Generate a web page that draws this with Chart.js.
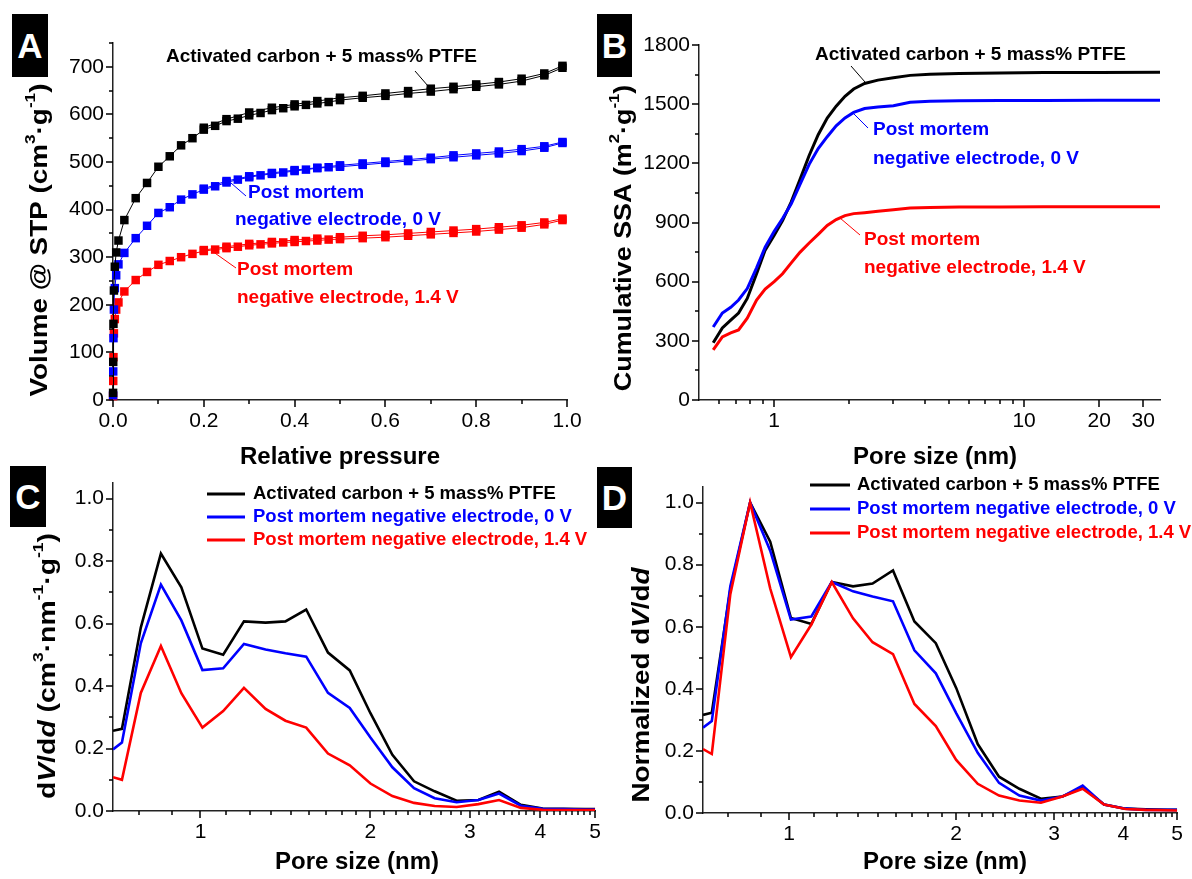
<!DOCTYPE html>
<html>
<head>
<meta charset="utf-8">
<script src="https://cdn.jsdelivr.net/npm/chart.js@4.4.1/dist/chart.umd.min.js"></script>
<style>
    body { margin: 0; background: #fff; width: 1192px; height: 879px; position: relative; overflow: hidden; }
    canvas { position: absolute; }
    .tag {
        position: absolute; background: #000; color: #fff; text-align: center;
        font: bold 35px 'Liberation Sans', Arial, sans-serif;
    }
</style>
</head>
<body>
<canvas id="cvA" width="596" height="480" style="left:0;top:0"></canvas>
<canvas id="cvB" width="596" height="480" style="left:596px;top:0"></canvas>
<canvas id="cvC" width="610" height="439" style="left:0;top:440px"></canvas>
<canvas id="cvD" width="602" height="439" style="left:590px;top:440px"></canvas>
<div class="tag" style="left:12px;top:14px;width:36px;height:63px;line-height:63px">A</div>
<div class="tag" style="left:597px;top:14px;width:35px;height:63px;line-height:63px">B</div>
<div class="tag" style="left:10px;top:466px;width:36px;height:61px;line-height:61px">C</div>
<div class="tag" style="left:597px;top:467px;width:35px;height:61px;line-height:61px">D</div>
<script>
// ---- A: N2 isotherms (relative pressure vs volume, cm3/g)
const P_ADS = [0.0002, 0.0005, 0.001, 0.002, 0.004, 0.007, 0.012, 0.025, 0.05, 0.075, 0.1,
    0.125, 0.15, 0.175, 0.2, 0.225, 0.25, 0.275, 0.3, 0.325, 0.35, 0.375, 0.4, 0.425, 0.45,
    0.475, 0.5, 0.55, 0.6, 0.65, 0.7, 0.75, 0.8, 0.85, 0.9, 0.95, 0.99];
const P_DES = [0.99, 0.95, 0.9, 0.85, 0.8, 0.75, 0.7, 0.65, 0.6, 0.55, 0.5, 0.45, 0.4, 0.35, 0.3, 0.25, 0.2];

const AC_ADS = [15, 80, 160, 230, 280, 310, 335, 378, 424, 456, 490, 512, 535, 550, 568, 576, 586, 591,
    598, 603, 609, 613, 617, 620, 623, 626, 630, 635, 639, 644, 648, 653, 658, 663, 670, 682, 698];
const AC_DES = [702, 686, 675, 668, 663, 658, 654, 649, 644, 639, 635, 628, 621, 614, 604, 590, 572];
const PM0_ADS = [10, 60, 130, 190, 235, 262, 285, 309, 340, 366, 393, 405, 421, 432, 442, 449, 457, 463,
    468, 472, 475, 478, 481, 484, 487, 489, 490, 494, 498, 502, 506, 510, 514, 518, 523, 530, 540];
const PM0_DES = [542, 533, 527, 522, 518, 514, 509, 505, 501, 497, 493, 488, 483, 477, 470, 460, 444];
const PM14_ADS = [8, 40, 90, 140, 170, 190, 205, 228, 252, 269, 284, 292, 300, 307, 313, 316, 319, 322,
    325, 327, 329, 331, 332, 334, 335, 337, 338, 340, 342, 345, 348, 351, 354, 358, 362, 369, 378];
const PM14_DES = [381, 373, 367, 363, 359, 356, 353, 350, 347, 345, 342, 339, 336, 332, 328, 322, 315];

// ---- B: cumulative SSA (m2/g) vs pore size (nm)
const SSA_SIZE = [0.57, 0.62, 0.67, 0.72, 0.78, 0.85, 0.92, 1.0, 1.08, 1.17, 1.27, 1.38, 1.5, 1.63,
    1.77, 1.92, 2.08, 2.3, 2.6, 3.0, 3.5, 4.2, 5.5, 8, 12, 20, 35];
const SSA_AC = [290, 365, 405, 441, 515, 640, 760, 835, 910, 1005, 1120, 1240, 1345, 1430, 1490, 1540,
    1577, 1605, 1622, 1634, 1646, 1652, 1655, 1658, 1660, 1661, 1662];
const SSA_PM0 = [370, 441, 470, 507, 565, 670, 775, 855, 920, 995, 1095, 1195, 1275, 1335, 1390, 1430,
    1458, 1478, 1486, 1492, 1510, 1515, 1517, 1518, 1519, 1520, 1520];
const SSA_PM14 = [254, 320, 340, 355, 415, 507, 562, 600, 640, 695, 750, 796, 840, 885, 915, 935,
    945, 950, 957, 965, 974, 976, 978, 979, 980, 980, 980];

// ---- C / D: pore size distributions
const PSD_SIZE = [0.70, 0.726, 0.784, 0.851, 0.925, 1.008, 1.097, 1.194, 1.304, 1.414, 1.539, 1.682,
    1.838, 2.0, 2.187, 2.389, 2.599, 2.842, 3.106, 3.379, 3.693, 4.036, 4.39, 4.8, 5.0];
const PSD_AC = [0.257, 0.263, 0.587, 0.824, 0.716, 0.52, 0.50, 0.607, 0.603, 0.607, 0.645, 0.507, 0.45,
    0.313, 0.18, 0.095, 0.063, 0.033, 0.035, 0.062, 0.02, 0.008, 0.007, 0.006, 0.006];
const PSD_PM0 = [0.197, 0.219, 0.537, 0.725, 0.61, 0.451, 0.457, 0.535, 0.517, 0.505, 0.494, 0.378, 0.33,
    0.235, 0.14, 0.073, 0.041, 0.028, 0.035, 0.056, 0.017, 0.007, 0.006, 0.005, 0.005];
const PSD_PM14 = [0.108, 0.1, 0.378, 0.528, 0.377, 0.267, 0.32, 0.394, 0.327, 0.289, 0.267, 0.184, 0.146,
    0.088, 0.048, 0.026, 0.016, 0.013, 0.022, 0.035, 0.01, 0.004, 0.003, 0.003, 0.003];
const NORM_AC = [0.316, 0.323, 0.72, 1.0, 0.874, 0.628, 0.609, 0.744, 0.73, 0.739, 0.781, 0.617, 0.547,
    0.403, 0.222, 0.117, 0.078, 0.046, 0.053, 0.082, 0.027, 0.014, 0.012, 0.01, 0.01];
const NORM_PM0 = [0.275, 0.296, 0.73, 1.0, 0.845, 0.623, 0.633, 0.744, 0.714, 0.697, 0.682, 0.524, 0.45,
    0.322, 0.194, 0.097, 0.056, 0.04, 0.053, 0.088, 0.027, 0.014, 0.01, 0.01, 0.01];
const NORM_PM14 = [0.206, 0.19, 0.705, 1.0, 0.723, 0.502, 0.607, 0.744, 0.627, 0.55, 0.512, 0.351, 0.28,
    0.171, 0.094, 0.056, 0.04, 0.033, 0.053, 0.078, 0.027, 0.013, 0.01, 0.009, 0.008];

// ---- ticks and labels
const A_X_TICKS = [0, 0.2, 0.4, 0.6, 0.8, 1.0];
const A_Y_TICKS = [0, 100, 200, 300, 400, 500, 600, 700];
const B_X_TICKS = [1, 10, 20, 30];
const B_Y_TICKS = [0, 300, 600, 900, 1200, 1500, 1800];
const CD_X_TICKS = [1, 2, 3, 4, 5];
const CD_Y_TICKS = [0, 0.2, 0.4, 0.6, 0.8, 1.0];

const SERIES_LABELS = ['Activated carbon + 5 mass% PTFE', 'Post mortem negative electrode, 0 V',
    'Post mortem negative electrode, 1.4 V'];
const COLORS = ['#000000', '#0000ff', '#ff0000'];
const FONT = "'Liberation Sans', Arial, sans-serif";

const pts = (xs, ys) => xs.map((x, i) => ({ x, y: ys[i] }));

// minor ticks on Origin-style log axes: 8 evenly spaced between integers
function ninths(lo, hi) {
    const out = [];
    for (let n = 0; n < 5; n++) for (let k = 1; k <= 8; k++) {
        const v = n + k / 9;
        if (v > lo && v < hi) out.push(v);
    }
    return out;
}

// extra drawing per canvas: tick marks, titles, notes, legend
const DECOR = {};

// y titles in the figure are drawn taller than the x titles, hence the stretch
function richText(ctx, parts, cx, cy, size, rotate, stretch) {
    ctx.save();
    ctx.translate(cx, cy);
    if (rotate) ctx.rotate(-Math.PI / 2);
    ctx.scale(stretch || 1, 1);
    const fontFor = p => `${p[1].includes('i') ? 'italic ' : ''}bold ${p[1].includes('s') ? size * 0.62 : size}px ${FONT}`;
    let w = 0;
    parts.forEach(p => { ctx.font = fontFor(p); w += ctx.measureText(p[0]).width; });
    let x = -w / 2;
    ctx.textBaseline = 'middle';
    ctx.textAlign = 'left';
    ctx.fillStyle = '#000';
    parts.forEach(p => {
        ctx.font = fontFor(p);
        ctx.fillText(p[0], x, p[1].includes('s') ? -size * 0.36 : 0);
        x += ctx.measureText(p[0]).width;
    });
    ctx.restore();
}

const decorPlugin = {
    id: 'decor',
    afterDraw(chart) {
        const d = DECOR[chart.canvas.id];
        if (!d) return;
        const ctx = chart.ctx, xs = chart.scales.x, ys = chart.scales.y;
        const ox = d.off[0], oy = d.off[1];
        ctx.save();
        ctx.strokeStyle = '#000';
        ctx.lineWidth = 1.5;
        ctx.beginPath();
        const xt = (v, len) => { const p = Math.round(xs.getPixelForValue(v)); ctx.moveTo(p, xs.top); ctx.lineTo(p, xs.top + len); };
        const yt = (v, len) => { const p = Math.round(ys.getPixelForValue(v)); ctx.moveTo(ys.right, p); ctx.lineTo(ys.right - len, p); };
        d.xMajor.forEach(v => xt(v, 7));
        d.xMinor.forEach(v => xt(v, 4));
        d.yMajor.forEach(v => yt(v, 7));
        d.yMinor.forEach(v => yt(v, 4));
        ctx.stroke();

        // axis titles
        richText(ctx, d.xTitle, d.xTitleAt[0] - ox, d.xTitleAt[1] - oy, 24, false, 1);
        richText(ctx, d.yTitle, d.yTitleAt[0] - ox, d.yTitleAt[1] - oy, 24, true, d.yStretch);

        // callout notes with leader lines
        ctx.textBaseline = 'middle';
        ctx.textAlign = 'left';
        (d.notes || []).forEach(n => {
            ctx.strokeStyle = n.color;
            ctx.fillStyle = n.color;
            ctx.lineWidth = 1;
            ctx.beginPath();
            ctx.moveTo(n.leader[0] - ox, n.leader[1] - oy);
            ctx.lineTo(n.leader[2] - ox, n.leader[3] - oy);
            ctx.stroke();
            ctx.font = `bold 19px ${FONT}`;
            n.lines.forEach(l => ctx.fillText(l[0], l[1] - ox, l[2] - oy));
        });

        // legend
        if (d.legend) {
            const L = d.legend;
            SERIES_LABELS.forEach((t, i) => {
                const y = L.rows[i] - oy;
                ctx.strokeStyle = COLORS[i];
                ctx.lineWidth = 3;
                ctx.beginPath();
                ctx.moveTo(L.x0 - ox, y);
                ctx.lineTo(L.x1 - ox, y);
                ctx.stroke();
                ctx.fillStyle = COLORS[i];
                ctx.font = `bold 18.5px ${FONT}`;
                ctx.fillText(t, L.tx - ox, y);
            });
        }
        ctx.restore();
    }
};

function axis(type, min, max, ticks, fmt, fit, isX) {
    return {
        type, min, max,
        afterBuildTicks: s => { s.ticks = ticks.map(v => ({ value: v })); },
        afterFit: s => { if (isX) s.height = fit; else s.width = fit; },
        grid: { display: false, drawTicks: false },
        border: { display: true, color: '#222', width: 1.5 },
        ticks: {
            autoSkip: false, maxRotation: 0, color: '#000',
            padding: 9,
            font: { family: FONT, size: 21 },
            callback: fmt,
        },
    };
}

function makeChart(id, datasets, pad, xScale, yScale) {
    return new Chart(document.getElementById(id), {
        type: 'line',
        data: { datasets },
        options: {
            responsive: false,
            animation: false,
            layout: { padding: pad },
            plugins: { legend: { display: false }, tooltip: { enabled: false } },
            scales: { x: xScale, y: yScale },
        },
        plugins: [decorPlugin],
    });
}

function isoSet(xs, ys, color) {
    return {
        data: pts(xs, ys), borderColor: color, backgroundColor: color, borderWidth: 1,
        pointStyle: 'rect', pointRadius: 6, pointBorderWidth: 0, pointBackgroundColor: color,
        tension: 0, clip: false,
    };
}
function curveSet(xs, ys, i, width) {
    return {
        data: pts(xs, ys), borderColor: COLORS[i], borderWidth: width, pointRadius: 0,
        tension: 0, order: 3 - i,
    };
}

// ---------- A
DECOR.cvA = {
    off: [0, 0],
    xMajor: A_X_TICKS, xMinor: [0.1, 0.3, 0.5, 0.7, 0.9],
    yMajor: A_Y_TICKS, yMinor: [50, 150, 250, 350, 450, 550, 650, 750],
    xTitle: [['Relative pressure', '']], xTitleAt: [340, 457],
    yTitle: [['Volume @ STP (cm', ''], ['3', 's'], ['·g', ''], ['-1', 's'], [')', '']],
    yTitleAt: [40, 240], yStretch: 1.16,
    notes: [
        { color: COLORS[0], leader: [415, 71, 428, 86], lines: [[SERIES_LABELS[0], 166, 57]] },
        { color: COLORS[1], leader: [231, 183, 246, 196], lines: [['Post mortem', 248, 193], ['negative electrode, 0 V', 235, 220]] },
        { color: COLORS[2], leader: [212, 251, 236, 268], lines: [['Post mortem', 237, 270], ['negative electrode, 1.4 V', 237, 298]] },
    ],
};
makeChart('cvA', [
    isoSet(P_ADS, AC_ADS, COLORS[0]), isoSet(P_DES, AC_DES, COLORS[0]),
    isoSet(P_ADS, PM0_ADS, COLORS[1]), isoSet(P_DES, PM0_DES, COLORS[1]),
    isoSet(P_ADS, PM14_ADS, COLORS[2]), isoSet(P_DES, PM14_DES, COLORS[2]),
], { left: 0, top: 43, right: 29, bottom: 0 },
    axis('linear', 0, 1.0, A_X_TICKS, v => v.toFixed(1), 80, true),
    axis('linear', 0, 750, A_Y_TICKS, v => String(v), 113, false));

// ---------- B
DECOR.cvB = {
    off: [596, 0],
    xMajor: B_X_TICKS, xMinor: [0.6, 0.7, 0.8, 0.9, 2, 3, 4, 5, 6, 7, 8, 9],
    yMajor: B_Y_TICKS, yMinor: [150, 450, 750, 1050, 1350, 1650],
    xTitle: [['Pore size (nm)', '']], xTitleAt: [935, 457],
    yTitle: [['Cumulative SSA (m', ''], ['2', 's'], ['·g', ''], ['-1', 's'], [')', '']],
    yTitleAt: [624, 238], yStretch: 1.12,
    notes: [
        { color: COLORS[0], leader: [851, 66, 865, 82], lines: [[SERIES_LABELS[0], 815, 55]] },
        { color: COLORS[1], leader: [853, 113, 868, 128], lines: [['Post mortem', 873, 130], ['negative electrode, 0 V', 873, 159]] },
        { color: COLORS[2], leader: [840, 218, 860, 235], lines: [['Post mortem', 864, 240], ['negative electrode, 1.4 V', 864, 268]] },
    ],
};
makeChart('cvB', [
    curveSet(SSA_SIZE, SSA_AC, 0, 3), curveSet(SSA_SIZE, SSA_PM0, 1, 3), curveSet(SSA_SIZE, SSA_PM14, 2, 3),
], { left: 0, top: 45, right: 32, bottom: 0 },
    axis('logarithmic', 0.5, 35, B_X_TICKS, v => String(v), 80, true),
    axis('linear', 0, 1800, B_Y_TICKS, v => String(v), 103, false));

// ---------- C
const dvdd = [['d', ''], ['V', 'i'], ['/d', ''], ['d', 'i']];
DECOR.cvC = {
    off: [0, 440],
    xMajor: CD_X_TICKS, xMinor: ninths(0.7, 5),
    yMajor: CD_Y_TICKS, yMinor: [0.1, 0.3, 0.5, 0.7, 0.9],
    xTitle: [['Pore size (nm)', '']], xTitleAt: [357, 862],
    yTitle: dvdd.concat([[' (cm', ''], ['3', 's'], ['·nm', ''], ['-1', 's'], ['·g', ''], ['-1', 's'], [')', '']]),
    yTitleAt: [48, 666], yStretch: 1.18,
    legend: { x0: 207, x1: 245, tx: 253, rows: [494, 517, 540] },
};
makeChart('cvC', [
    curveSet(PSD_SIZE, PSD_AC, 0, 2.6), curveSet(PSD_SIZE, PSD_PM0, 1, 2.6), curveSet(PSD_SIZE, PSD_PM14, 2, 2.6),
], { left: 0, top: 43, right: 10, bottom: 0 },
    axis('logarithmic', 0.7, 5, CD_X_TICKS, v => String(v), 68, true),
    axis('linear', 0, 1.05, CD_Y_TICKS, v => v.toFixed(1), 113, false));

// ---------- D
DECOR.cvD = {
    off: [590, 440],
    xMajor: CD_X_TICKS, xMinor: ninths(0.7, 5),
    yMajor: CD_Y_TICKS, yMinor: [0.1, 0.3, 0.5, 0.7, 0.9],
    xTitle: [['Pore size (nm)', '']], xTitleAt: [945, 862],
    yTitle: [['Normalized ', '']].concat(dvdd), yTitleAt: [642, 685], yStretch: 1.16,
    legend: { x0: 810, x1: 850, tx: 857, rows: [485, 509, 533] },
};
makeChart('cvD', [
    curveSet(PSD_SIZE, NORM_AC, 0, 2.6), curveSet(PSD_SIZE, NORM_PM0, 1, 2.6), curveSet(PSD_SIZE, NORM_PM14, 2, 2.6),
], { left: 0, top: 47, right: 7, bottom: 0 },
    axis('logarithmic', 0.7, 5, CD_X_TICKS, v => String(v), 66, true),
    axis('linear', 0, 1.05, CD_Y_TICKS, v => v.toFixed(1), 113, false));
</script>
</body>
</html>
